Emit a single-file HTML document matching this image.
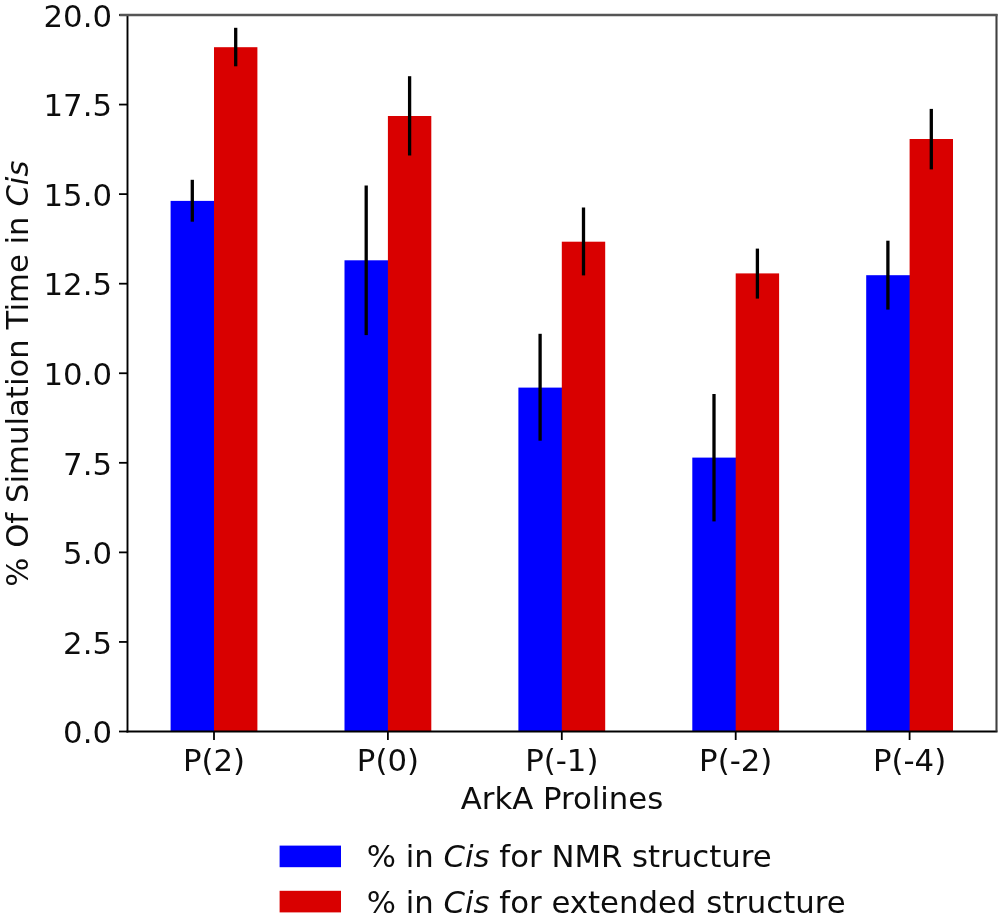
<!DOCTYPE html>
<html lang="en">
<head>
<meta charset="utf-8">
<title>ArkA Prolines - % Of Simulation Time in Cis</title>
<style>
html,body{margin:0;padding:0;background:#fff;}
body{width:1001px;height:916px;overflow:hidden;}
svg{display:block;}
text{font-family:"DejaVu Sans","Liberation Sans",sans-serif;font-size:30.75px;fill:#0d0d0d;}
.it{font-style:italic;}
</style>
</head>
<body>
<svg width="1001" height="916" viewBox="0 0 1001 916">
<rect x="0" y="0" width="1001" height="916" fill="#ffffff"/>
<g shape-rendering="auto">
<rect x="170.60" y="200.90" width="44.40" height="530.60" fill="#0000ff"/>
<rect x="214.00" y="47.20" width="43.40" height="684.30" fill="#d90000"/>
<rect x="344.50" y="260.30" width="44.40" height="471.20" fill="#0000ff"/>
<rect x="387.90" y="116.00" width="43.40" height="615.50" fill="#d90000"/>
<rect x="518.40" y="387.60" width="44.40" height="343.90" fill="#0000ff"/>
<rect x="561.80" y="241.70" width="43.40" height="489.80" fill="#d90000"/>
<rect x="692.30" y="457.60" width="44.40" height="273.90" fill="#0000ff"/>
<rect x="735.70" y="273.40" width="43.40" height="458.10" fill="#d90000"/>
<rect x="866.20" y="275.20" width="44.40" height="456.30" fill="#0000ff"/>
<rect x="909.60" y="139.00" width="43.40" height="592.50" fill="#d90000"/>
</g>
<g stroke="#000" stroke-width="3.3" stroke-linecap="butt">
<line x1="192.30" y1="179.80" x2="192.30" y2="221.70"/>
<line x1="235.70" y1="27.80" x2="235.70" y2="66.30"/>
<line x1="366.20" y1="185.50" x2="366.20" y2="335.10"/>
<line x1="409.60" y1="76.20" x2="409.60" y2="155.50"/>
<line x1="540.10" y1="333.80" x2="540.10" y2="440.70"/>
<line x1="583.50" y1="207.50" x2="583.50" y2="275.40"/>
<line x1="714.00" y1="394.00" x2="714.00" y2="521.40"/>
<line x1="757.40" y1="248.60" x2="757.40" y2="298.60"/>
<line x1="887.90" y1="240.70" x2="887.90" y2="309.60"/>
<line x1="931.30" y1="108.90" x2="931.30" y2="169.40"/>
</g>
<g stroke="#000" stroke-width="1.8">
<line x1="214.00" y1="731.50" x2="214.00" y2="740.00"/>
<line x1="387.90" y1="731.50" x2="387.90" y2="740.00"/>
<line x1="561.80" y1="731.50" x2="561.80" y2="740.00"/>
<line x1="735.70" y1="731.50" x2="735.70" y2="740.00"/>
<line x1="909.60" y1="731.50" x2="909.60" y2="740.00"/>
<line x1="119.00" y1="731.50" x2="127.50" y2="731.50"/>
<line x1="119.00" y1="641.94" x2="127.50" y2="641.94"/>
<line x1="119.00" y1="552.38" x2="127.50" y2="552.38"/>
<line x1="119.00" y1="462.81" x2="127.50" y2="462.81"/>
<line x1="119.00" y1="373.25" x2="127.50" y2="373.25"/>
<line x1="119.00" y1="283.69" x2="127.50" y2="283.69"/>
<line x1="119.00" y1="194.12" x2="127.50" y2="194.12"/>
<line x1="119.00" y1="104.56" x2="127.50" y2="104.56"/>
<line x1="119.00" y1="15.00" x2="127.50" y2="15.00"/>
</g>
<g fill="none" stroke-linecap="butt">
<line x1="127.50" y1="15.00" x2="127.50" y2="732.45" stroke="#000" stroke-width="1.9"/>
<line x1="126.55" y1="731.50" x2="997.50" y2="731.50" stroke="#000" stroke-width="1.9"/>
<line x1="996.50" y1="13.90" x2="996.50" y2="731.50" stroke="#404040" stroke-width="2.1"/>
<line x1="119.50" y1="15.00" x2="997.50" y2="15.00" stroke="#555" stroke-width="2.4"/>
</g>
<text x="112" y="743.30" text-anchor="end">0.0</text>
<text x="112" y="653.74" text-anchor="end">2.5</text>
<text x="112" y="564.17" text-anchor="end">5.0</text>
<text x="112" y="474.61" text-anchor="end">7.5</text>
<text x="112" y="385.05" text-anchor="end">10.0</text>
<text x="112" y="295.49" text-anchor="end">12.5</text>
<text x="112" y="205.93" text-anchor="end">15.0</text>
<text x="112" y="116.36" text-anchor="end">17.5</text>
<text x="112" y="26.80" text-anchor="end">20.0</text>
<text x="214.00" y="771.0" text-anchor="middle">P(2)</text>
<text x="387.90" y="771.0" text-anchor="middle">P(0)</text>
<text x="561.80" y="771.0" text-anchor="middle">P(-1)</text>
<text x="735.70" y="771.0" text-anchor="middle">P(-2)</text>
<text x="909.60" y="771.0" text-anchor="middle">P(-4)</text>
<text x="562" y="809.2" text-anchor="middle">ArkA Prolines</text>
<text transform="translate(28.1,373.7) rotate(-90)" text-anchor="middle">% Of Simulation Time in <tspan class="it">Cis</tspan></text>
<rect x="279.6" y="845.6" width="61.4" height="21.6" fill="#0000ff"/>
<rect x="279.6" y="890.8" width="61.4" height="21.6" fill="#d90000"/>
<text x="366.7" y="867.4">% in <tspan class="it">Cis</tspan> for NMR structure</text>
<text x="366.7" y="912.6">% in <tspan class="it">Cis</tspan> for extended structure</text>
</svg>
</body>
</html>
